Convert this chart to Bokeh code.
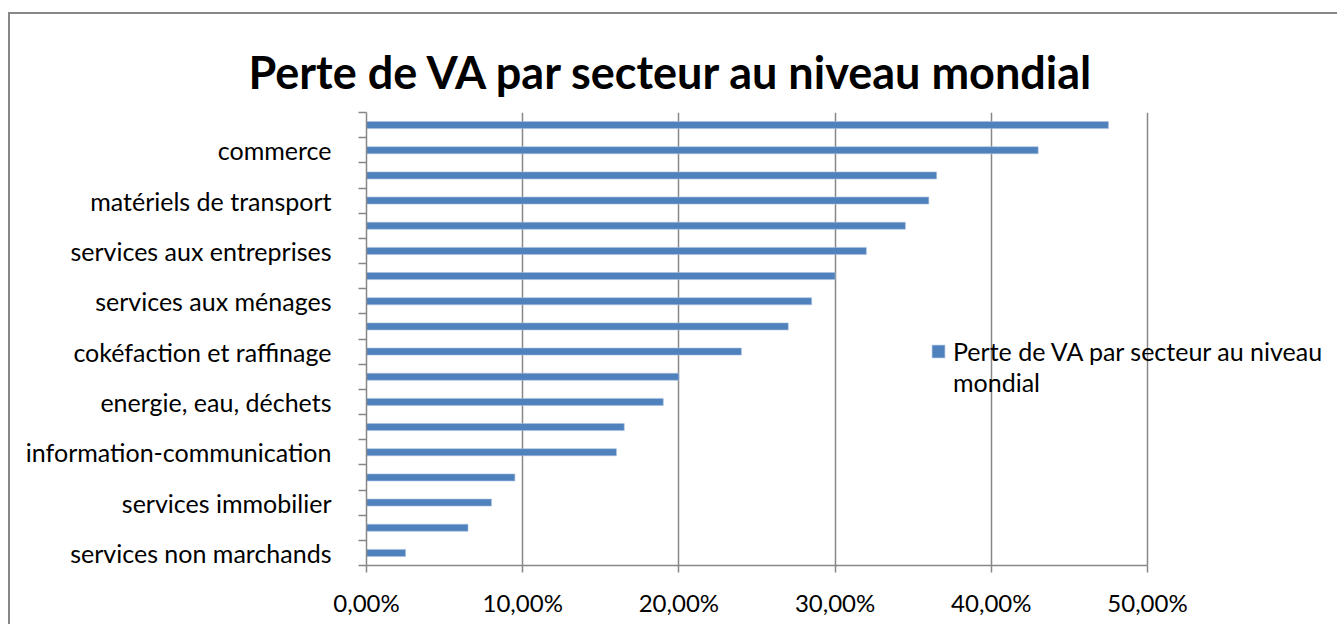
from bokeh.plotting import figure
from bokeh.models import (ColumnDataSource, FixedTicker, Range1d, Legend, LegendItem, Title)
from bokeh.embed import file_html
from bokeh.resources import INLINE

# ---- data (top to bottom, as in the picture) ----
categories = [
    "", "commerce", "", "matériels de transport", "", "services aux entreprises",
    "", "services aux ménages", "", "cokéfaction et raffinage", "",
    "energie, eau, déchets", "", "information-communication", "",
    "services immobilier", "", "services non marchands",
]
values = [
    0.475, 0.43, 0.365, 0.36, 0.345, 0.32,
    0.30, 0.285, 0.27, 0.24, 0.20,
    0.19, 0.165, 0.16, 0.095,
    0.08, 0.065, 0.025,
]
x_ticks = [0.0, 0.1, 0.2, 0.3, 0.4, 0.5]
x_tick_labels = ["0,00%", "10,00%", "20,00%", "30,00%", "40,00%", "50,00%"]
series_name = "Perte de VA par secteur au niveau mondial"
legend_lines = ["Perte de VA par secteur au niveau", "mondial"]

n = len(categories)
ypos = [n - 1 - i for i in range(n)]
source = ColumnDataSource(dict(y=ypos, v=values, cat=categories))

FONT = "Lato"
GRAY = "#878787"

W, H = 1329, 612
ML, MR, MT, MB = 356, 10, 98, 61
axis_px = 781  # pixel length of the 0..50% axis
frame_w = W - ML - MR
x_end = x_ticks[-1] * frame_w / axis_px

p = figure(
    width=W, height=H,
    x_range=Range1d(0, x_end), y_range=Range1d(-0.5, n - 0.5),
    output_backend="svg", toolbar_location=None,
    min_border_left=ML, min_border_right=MR, min_border_top=MT, min_border_bottom=MB,
    title=None,
)
p.styles = {"border-left": "2px solid #878787", "border-top": "2px solid #878787",
            "margin-top": "12px", "margin-left": "8px"}
p.outline_line_color = None
p.background_fill_color = "white"
p.border_fill_color = "white"

t = Title(text=series_name, align="left", offset=-118, text_font=FONT, text_font_style="bold",
          text_font_size="45px", text_color="black", standoff=27)
p.add_layout(t, "above")

bars = p.hbar(y="y", right="v", left=0, height=0.28, source=source,
              fill_color="#4F81BD", line_color="#A9C0DF", line_width=0.6)
dummy = p.hbar(y=[], right=[], left=0, height=0.28, fill_alpha=0, line_alpha=0)

# x axis
p.xaxis.ticker = FixedTicker(ticks=x_ticks, minor_ticks=[])
p.xaxis.bounds = (x_ticks[0], x_ticks[-1])
p.xaxis.major_label_overrides = {x: lab for x, lab in zip(x_ticks, x_tick_labels)}
p.xaxis.axis_line_color = GRAY
p.xaxis.axis_line_width = 1.5
p.xaxis.major_tick_line_color = GRAY
p.xaxis.major_tick_line_width = 1.5
p.xaxis.major_tick_out = 7
p.xaxis.major_tick_in = 0
p.xaxis.major_label_text_font = FONT
p.xaxis.major_label_text_font_size = "24px"
p.xaxis.major_label_text_color = "black"
p.xaxis.major_label_standoff = 15

# y axis
lab_ticks = [y for y, c in zip(ypos, categories) if c]
p.yaxis.ticker = FixedTicker(ticks=lab_ticks, minor_ticks=[k - 0.5 for k in range(n + 1)])
p.yaxis.major_label_overrides = {y: c for y, c in zip(ypos, categories) if c}
p.yaxis.axis_line_color = GRAY
p.yaxis.axis_line_width = 1.5
p.yaxis.major_tick_line_color = None
p.yaxis.major_tick_out = 0
p.yaxis.major_tick_in = 0
p.yaxis.minor_tick_line_color = GRAY
p.yaxis.minor_tick_line_width = 1.5
p.yaxis.minor_tick_out = 8
p.yaxis.minor_tick_in = 0
p.yaxis.major_label_text_font = FONT
p.yaxis.major_label_text_font_size = "25px"
p.yaxis.major_label_text_color = "black"
p.yaxis.major_label_standoff = 27

# grids
p.ygrid.grid_line_color = None
p.xgrid.ticker = FixedTicker(ticks=x_ticks)
p.xgrid.grid_line_color = GRAY
p.xgrid.grid_line_width = 1.5

legend = Legend(
    items=[LegendItem(label=legend_lines[0], renderers=[bars]),
           LegendItem(label=legend_lines[1], renderers=[dummy])],
    location=(564, 168),
    glyph_width=16, glyph_height=16, label_standoff=7,
    label_text_font=FONT, label_text_font_size="25px", label_text_color="black",
    label_height=20, spacing=1, padding=0, margin=0,
    border_line_color=None, background_fill_alpha=0,
)
p.add_layout(legend, "center")

open("out.html", "w").write(file_html(p, INLINE))
